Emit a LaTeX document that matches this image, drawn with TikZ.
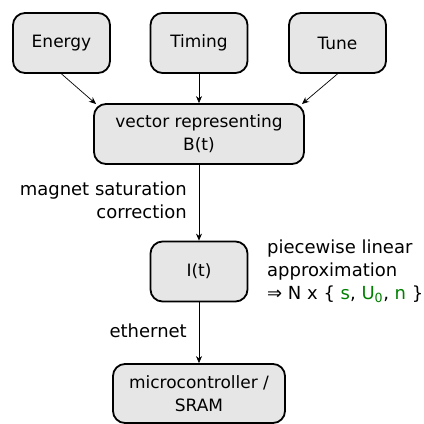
\documentclass[tikz,border=0pt]{standalone}
\usepackage{fontspec}
\setmainfont{DejaVu Sans}
\usetikzlibrary{arrows.meta}
\definecolor{boxfill}{RGB}{230,230,230}
\definecolor{grn}{RGB}{0,128,0}
\begin{document}
\begin{tikzpicture}[x=1pt,y=-1pt,
  box/.style={draw=black, line width=1.8pt, fill=boxfill, rounded corners=12pt,
    align=center, inner sep=0pt, font=\fontsize{17}{23}\selectfont},
  lbl/.style={inner sep=0pt, font=\fontsize{18}{23}\selectfont},
  conn/.style={-{Stealth[length=7pt,width=6pt]}, line width=0.7pt}]
\useasboundingbox (0,0) rectangle (424,424);
\node[box, minimum width=97pt, minimum height=60pt] (energy) at (61.5,43) {Energy};
\node[box, minimum width=97pt, minimum height=60pt] (timing) at (199,43) {Timing};
\node[box, minimum width=97pt, minimum height=60pt] (tune) at (337.5,43) {Tune};
\node[box, minimum width=210pt, minimum height=60pt] (vec) at (199,134) {vector representing\\B(t)};
\node[box, minimum width=97pt, minimum height=60pt] (it) at (199,271.5) {I(t)};
\node[box, minimum width=172pt, minimum height=59pt] (mc) at (199,393.5) {microcontroller /\\SRAM};
\coordinate (vnw) at (96,104);
\coordinate (vne) at (302,104);
\draw[conn] (energy.south) -- (vnw);
\draw[conn] (timing.south) -- (vec.north);
\draw[conn] (tune.south) -- (vne);
\draw[conn] (vec.south) -- (it.north);
\draw[conn] (it.south) -- (mc.north);
\node[lbl, align=right, anchor=east] (msc) at (187,200) {magnet saturation\\correction};
\node[lbl, anchor=east] (eth) at (187,331) {ethernet};
\node[lbl, align=left, anchor=west] (pla) at (267,271) {piecewise linear\\approximation\\⇒ N x \{ \textcolor{grn}{s}, \textcolor{grn}{U\textsubscript{0}}, \textcolor{grn}{n} \}};
\end{tikzpicture}
\end{document}
